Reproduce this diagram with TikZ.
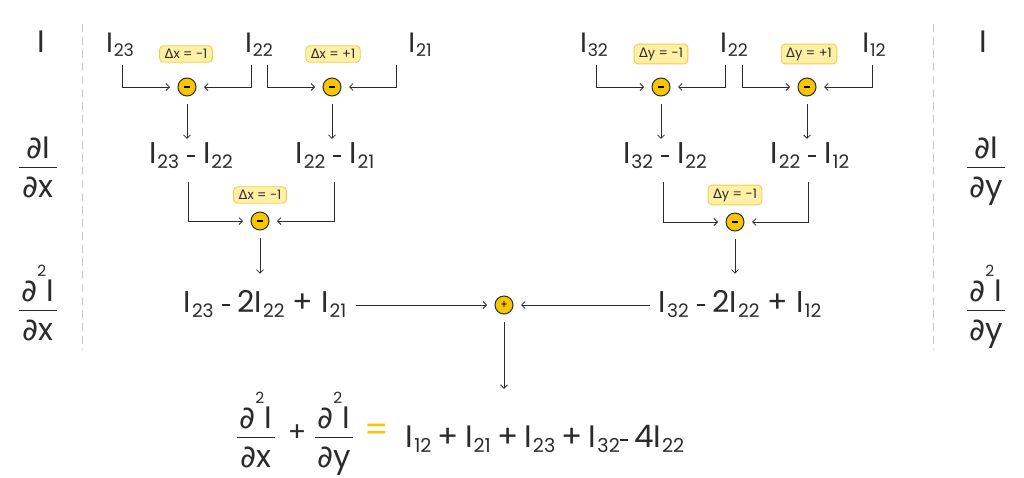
\documentclass[tikz,border=0pt]{standalone}
\usepackage{fontspec}
\usepackage{graphicx}
\setmainfont{Poppins}
\newfontfamily\sym{DejaVu Sans}
\usetikzlibrary{arrows.meta}

\definecolor{opyel}{HTML}{F7C600}
\definecolor{tagfill}{HTML}{FFF0A6}
\definecolor{tagline}{HTML}{F3CD4A}
\definecolor{ink}{HTML}{2B2B2B}
\definecolor{dashg}{HTML}{C8C8C8}

% pixel value with a subscript
\newcommand\sub[1]{\raisebox{-0.17em}{\scalebox{0.62}{#1}}}
\newcommand\I[1]{I\kern.03em\sub{#1}}
\newcommand\mn{\rule[0.2em]{0.26em}{0.07em}}
\newcommand\dd{{\sym\char"2202}}
\newcommand\dsq{\dd\raisebox{0.8em}{\scalebox{0.5}{2}}\kern.02em I}
\newcommand\tight{\spaceskip=0.2em\relax}
\newcommand\loose{\spaceskip=0.27em\relax}
% fraction built from rows
\newcommand\frc[2]{\vbox{\offinterlineskip\halign{\hfil##\hfil\cr#1\cr\noalign{\kern8pt}\rule{1.25em}{1.8pt}\cr\noalign{\kern8pt}#2\cr}}}

\begin{document}
\begin{tikzpicture}[x=1pt,y=-1pt,
  >={Straight Barb[length=3.5pt,width=7pt]},
  lbl/.style={anchor=base,inner sep=3pt,text=ink},
  top/.style={lbl,font=\fontsize{28}{34}\selectfont},
  mid/.style={lbl,font=\fontsize{30}{36}\selectfont\loose},
  frac/.style={lbl,font=\fontsize{31}{36}\selectfont},
  op/.style={circle,draw=ink,line width=1pt,fill=opyel,minimum size=18pt,inner sep=0pt,outer sep=8pt},
  tag/.style={draw=tagline,fill=tagfill,line width=0.9pt,rounded corners=4pt,inner xsep=5pt,inner ysep=3.5pt,text=ink,font=\fontsize{13}{15}\selectfont},
  arr/.style={->,draw=ink,line width=0.8pt}]
\useasboundingbox (0,0) rectangle (1024,477);

% side columns
\draw[dashg,line width=1pt,dash pattern=on 8pt off 5pt] (82,24) -- (82,350);
\draw[dashg,line width=1pt,dash pattern=on 8pt off 5pt] (933,24) -- (933,350);
\node (l0) [frac] at (41,52) {I};
\node (l1) [frac] at (38,197) {\frc{\dd I}{\dd x}};
\node (l2) [frac] at (38,340) {\frc{\dsq}{\dd x}};
\node (r0) [frac] at (983,52) {I};
\node (r1) [frac] at (986,197) {\frc{\dd I}{\dd y}};
\node (r2) [frac] at (986,340) {\frc{\dsq}{\dd y}};

% x direction
\node (i23) [top] at (120,52) {\I{23}};
\node (i22a) [top] at (259,52) {\I{22}};
\node (i21) [top] at (420,52) {\I{21}};
\node (t1) [tag] at (186,54) {{\sym Δ}x = -1};
\node (t2) [tag] at (333,54) {{\sym Δ}x = +1};
\node (m1) [op] at (187,87) {\rule{6pt}{1.5pt}};
\node (m2) [op] at (332,87) {\rule{6pt}{1.5pt}};
\node (d1) [mid] at (191,163) {\I{23} \mn{} \I{22}};
\node (d2) [mid] at (335,163) {\I{22} \mn{} \I{21}};
\node (t5) [tag] at (260,195) {{\sym Δ}x = -1};
\node (m3) [op] at (260,221) {\rule{6pt}{1.5pt}};
\node (s1) [mid] at (265,312) {\I{23} \mn{} 2\I{22} + \I{21}};

% y direction
\node (i32) [top] at (594,52) {\I{32}};
\node (i22b) [top] at (734,52) {\I{22}};
\node (i12) [top] at (874,52) {\I{12}};
\node (t3) [tag] at (661,54) {{\sym Δ}y = -1};
\node (t4) [tag] at (809,54) {{\sym Δ}y = +1};
\node (n1) [op] at (661,87) {\rule{6pt}{1.5pt}};
\node (n2) [op] at (807,87) {\rule{6pt}{1.5pt}};
\node (e1) [mid] at (665,163) {\I{32} \mn{} \I{22}};
\node (e2) [mid] at (810,163) {\I{22} \mn{} \I{12}};
\node (t6) [tag] at (735,195) {{\sym Δ}y = -1};
\node (n3) [op] at (735,222) {\rule{6pt}{1.5pt}};
\node (s2) [mid] at (740,312) {\I{32} \mn{} 2\I{22} + \I{12}};

% sum
\node (p) [op] at (504,305) {\fontsize{11}{11}\selectfont +};
\node (f1) [frac] at (256,467) {\frc{\dsq}{\dd x}};
\node (pl) [text=ink,font=\fontsize{27}{32}\selectfont] at (297,433) {+};
\node (f2) [frac] at (334,467) {\frc{\dsq}{\dd y}};
\node (eq) [text=opyel,font=\fontsize{34}{40}\selectfont] at (377,433) {=};
\node (rhs) [lbl,font=\fontsize{31}{36}\selectfont\tight] at (545,447) {\I{12} + \I{21} + \I{23} + \I{32}\mn{} 4\I{22}};

\draw[arr] ([shift={(2,13)}]i23.base) |- (m1);
\draw[arr] ([shift={(-8,13)}]i22a.base) |- (m1);
\draw[arr] ([shift={(8,13)}]i22a.base) |- (m2);
\draw[arr] ([shift={(-24,13)}]i21.base) |- (m2);
\draw[arr] ([shift={(2,13)}]i32.base) |- (n1);
\draw[arr] ([shift={(-9,13)}]i22b.base) |- (n1);
\draw[arr] ([shift={(8,13)}]i22b.base) |- (n2);
\draw[arr] ([shift={(-2,13)}]i12.base) |- (n2);
\draw[arr] (m1) -- (m1 |- d1.north);
\draw[arr] (m2) -- (m2 |- d2.north);
\draw[arr] (n1) -- (n1 |- e1.north);
\draw[arr] (n2) -- (n2 |- e2.north);
\draw[arr] ([shift={(-3,19)}]d1.base) |- (m3);
\draw[arr] ([shift={(-1,19)}]d2.base) |- (m3);
\draw[arr] ([shift={(-2,19)}]e1.base) |- (n3);
\draw[arr] ([shift={(-2,19)}]e2.base) |- (n3);
\draw[arr,shorten >=13pt] (m3) -- (m3 |- s1.north);
\draw[arr,shorten >=13pt] (n3) -- (n3 |- s2.north);
\draw[arr,shorten <=7pt] (s1.east |- p) -- (p);
\draw[arr,shorten <=6pt] (s2.west |- p) -- (p);
\draw[arr] (p) -- (p |- f1.north);
\end{tikzpicture}
\end{document}
